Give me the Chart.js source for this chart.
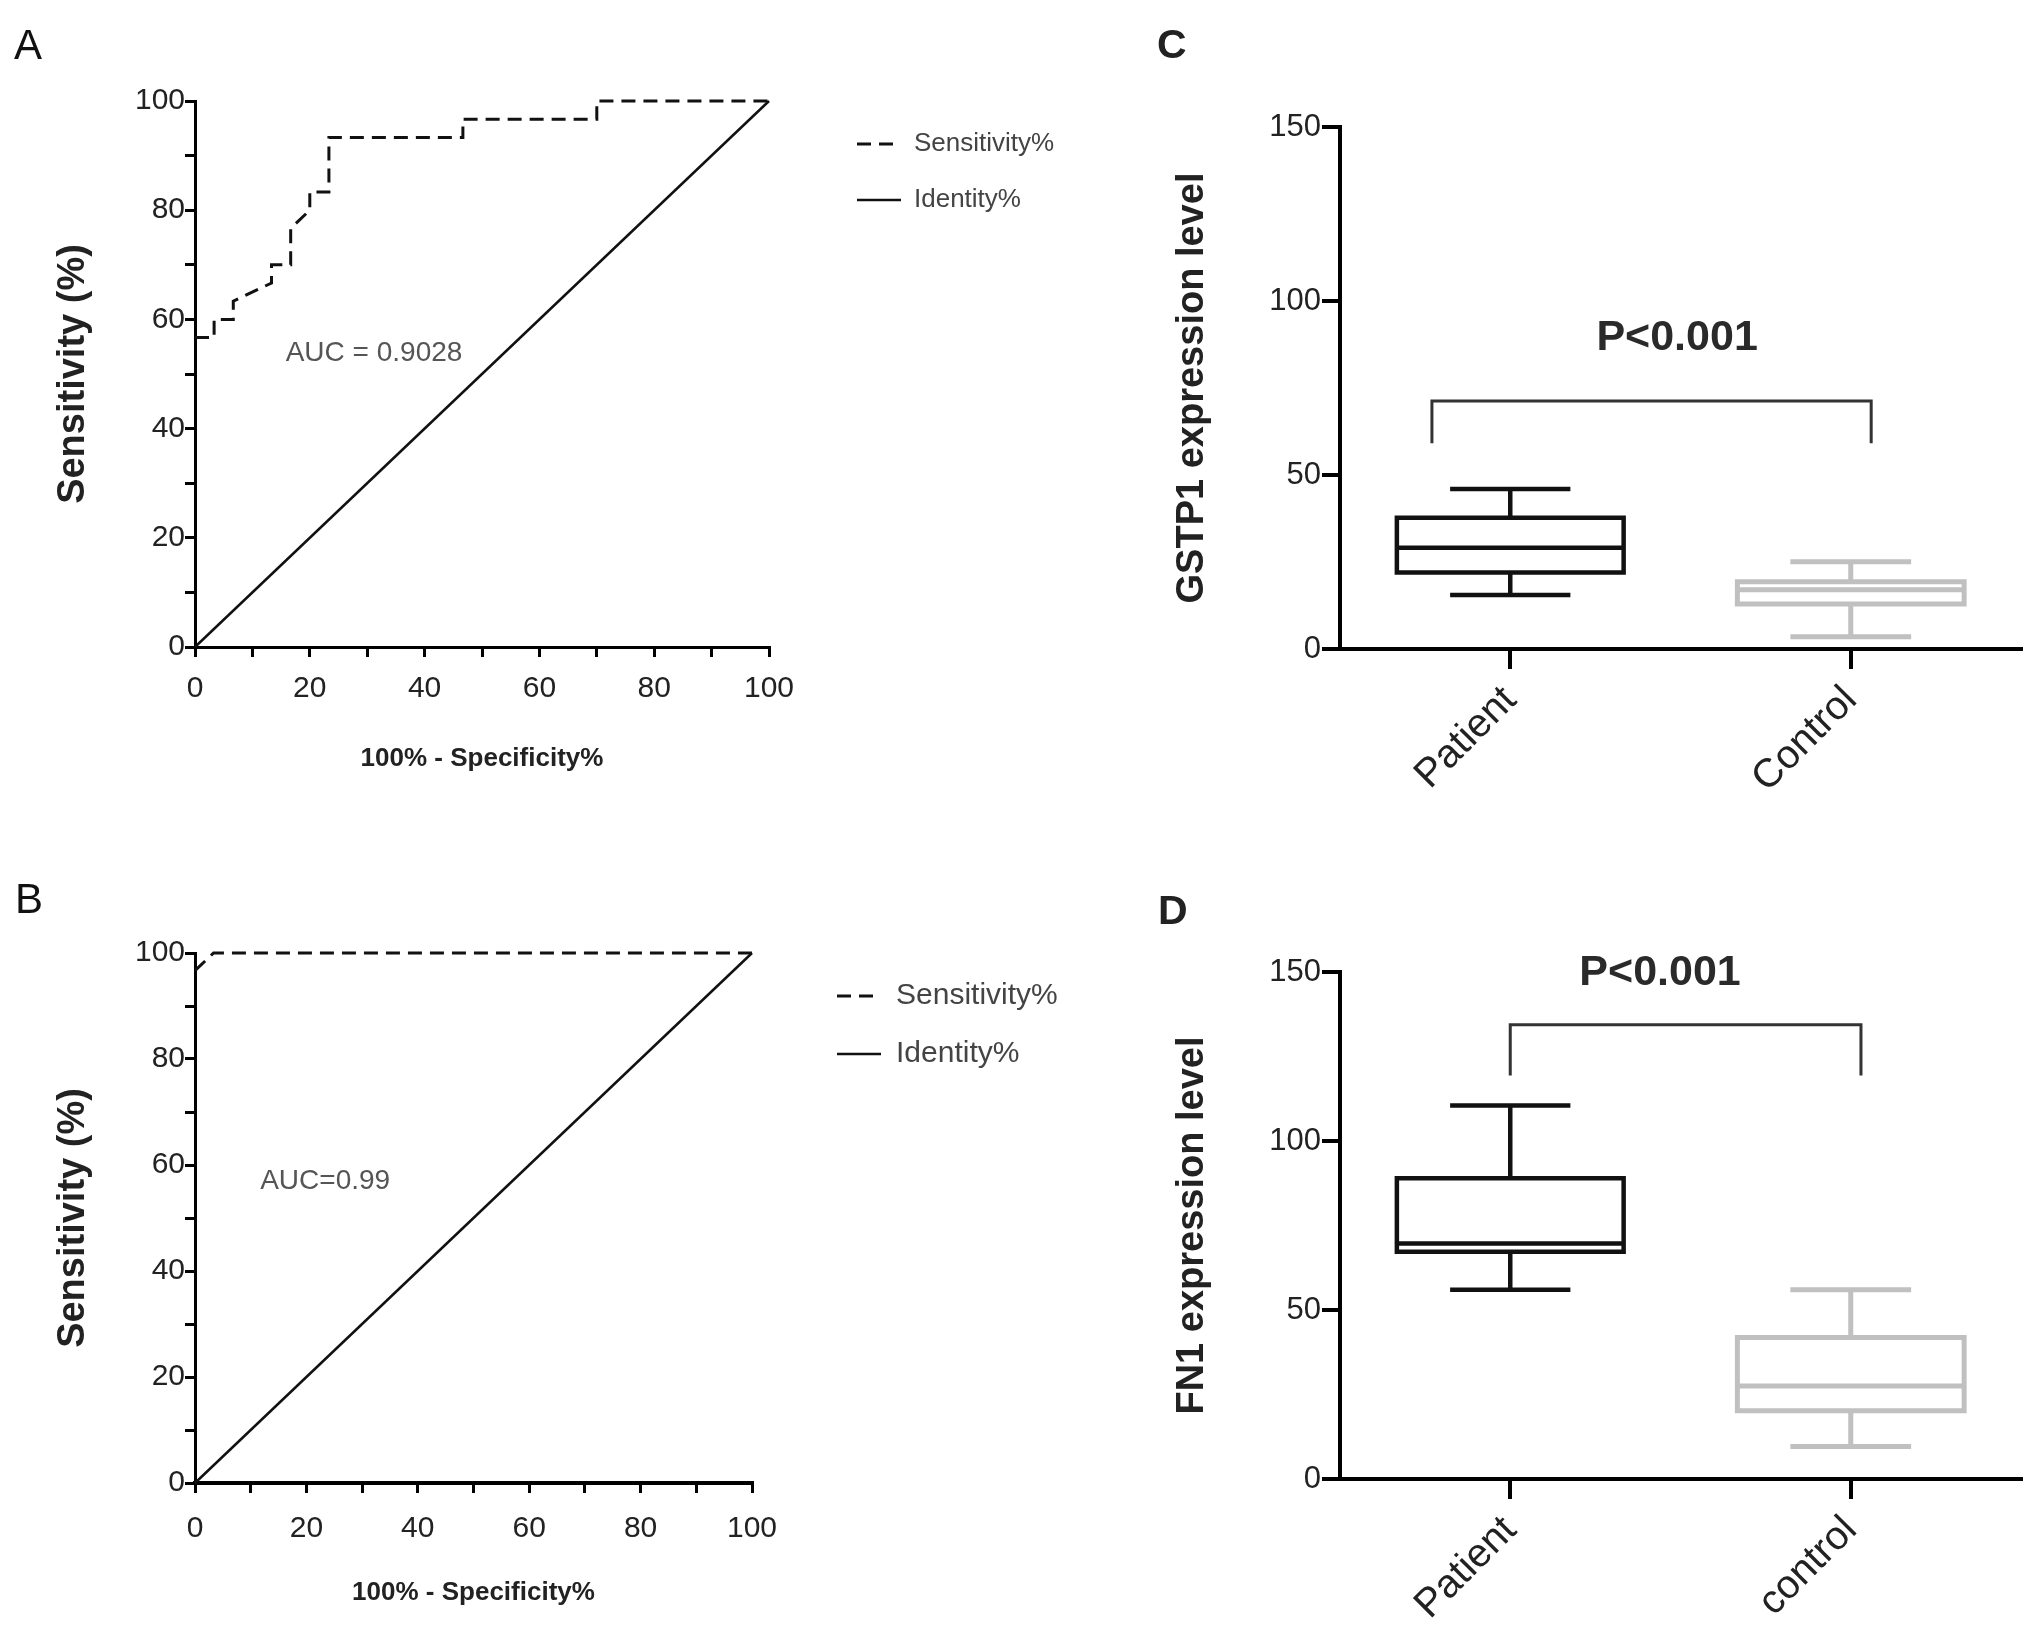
<!DOCTYPE html>
<html>
<head>
<meta charset="utf-8">
<script src="https://cdn.jsdelivr.net/npm/chart.js@4.4.1/dist/chart.umd.min.js"></script>
<style>
  html, body { margin: 0; padding: 0; background: #fff; }
  #page { position: relative; width: 2031px; height: 1629px; overflow: hidden; background: #fff; }
  canvas { position: absolute; }
  .tag { position: absolute; line-height: 1; color: #111; font-family: 'Liberation Sans', Arial, sans-serif; }
  .tag.thin { font-size: 42px; }
  .tag.bold { font-weight: bold; font-size: 41px; color: #222; }
</style>
</head>
<body>
<div id="page">
  <canvas id="rocA" width="1100" height="800" style="left:0;top:0"></canvas>
  <canvas id="rocB" width="1100" height="779" style="left:0;top:850px"></canvas>
  <canvas id="boxC" width="931" height="850" style="left:1100px;top:0"></canvas>
  <canvas id="boxD" width="931" height="779" style="left:1100px;top:850px"></canvas>
  <div class="tag thin" style="left:14px;top:24px">A</div>
  <div class="tag thin" style="left:15px;top:878px">B</div>
  <div class="tag bold" style="left:1157px;top:24px">C</div>
  <div class="tag bold" style="left:1158px;top:890px">D</div>
</div>
<script>
// =============================================
// データ
// =============================================
const ROC_SERIES = ['Sensitivity%', 'Identity%']
const ROC_LABELED = [0, 20, 40, 60, 80, 100]

// ROC A (x = 100% - Specificity%, y = Sensitivity%)
const ROC_A_FPR  = [0, 3.33, 3.33, 6.67, 6.67, 13.33, 13.33, 16.67, 16.67, 20, 20, 23.33, 23.33, 46.67, 46.67, 70, 70, 100]
const ROC_A_SENS = [56.67, 56.67, 60, 60, 63.33, 66.67, 70, 70, 76.67, 80, 83.33, 83.33, 93.33, 93.33, 96.67, 96.67, 100, 100]
// ROC B
const ROC_B_FPR  = [0, 3.33, 100]
const ROC_B_SENS = [96.67, 100, 100]
// 対角線
const IDENTITY_X = [0, 100]
const IDENTITY_Y = [0, 100]

const AUC_A = 'AUC = 0.9028'
const AUC_B = 'AUC=0.99'

// Box plot C (GSTP1)
const GROUPS_C   = ['Patient', 'Control']
const GSTP1_MIN  = [15.5, 3.5]
const GSTP1_Q1   = [22, 12.9]
const GSTP1_MED  = [29.1, 17]
const GSTP1_Q3   = [37.7, 19.3]
const GSTP1_MAX  = [46, 25.1]
const BRACKET_C_X = [-0.23, 1.06]
const BRACKET_C_Y = [71.3, 59.1]   // 横線, 端
const P_C = { text: 'P<0.001', x: 0.49, y: 89.4 }

// Box plot D (FN1)
const GROUPS_D  = ['Patient', 'control']
const FN1_MIN   = [56, 9.6]
const FN1_Q1    = [67.2, 20.2]
const FN1_MED   = [69.7, 27.5]
const FN1_Q3    = [89, 41.9]
const FN1_MAX   = [110.5, 56]
const BRACKET_D_X = [0, 1.03]
const BRACKET_D_Y = [134.4, 119.4]
const P_D = { text: 'P<0.001', x: 0.44, y: 149.7 }

const BOX_TICKS = [0, 50, 100, 150]

// =============================================
// 定数
// =============================================
const SANS = "'Liberation Sans', Arial, sans-serif"
const GROUP_COLORS = ['#111111', '#c0c0c0']
const GROUP_WIDTHS = [4.5, 5]
const BOX_HALF = 0.333
const CAP_HALF = 0.17

Chart.defaults.animation = false
Chart.defaults.font.family = SANS

// データ上の座標にテキストを描く
const textLabel = {
  id: 'textLabel',
  afterDatasetsDraw(chart, args, opts) {
    const { ctx, scales: { x, y } } = chart
    ;(opts.items || []).forEach(it => {
      ctx.save()
      ctx.font = it.font
      ctx.fillStyle = it.color
      ctx.textAlign = it.align || 'center'
      ctx.textBaseline = 'middle'
      ctx.fillText(it.text, x.getPixelForValue(it.x), y.getPixelForValue(it.y))
      ctx.restore()
    })
  }
}

const toPoints = (xs, ys) => xs.map((v, i) => ({ x: v, y: ys[i] }))

// 凡例の線種をデータセットの線に合わせる
function lineLegendLabels(chart) {
  return Chart.defaults.plugins.legend.labels.generateLabels(chart).map(item => {
    const ds = chart.data.datasets[item.datasetIndex]
    return Object.assign(item, {
      lineDash: ds.borderDash || [],
      lineWidth: ds.borderWidth,
      strokeStyle: ds.borderColor,
    })
  })
}

// =============================================
// ROC
// =============================================
function rocTicks(pad) {
  return {
    stepSize: 10,
    autoSkip: false,
    maxRotation: 0,
    padding: pad,
    color: '#222',
    font: { family: SANS, size: 30 },
    callback: v => ROC_LABELED.includes(v) ? String(v) : ''
  }
}
const rocGrid = () => ({ drawOnChartArea: false, drawTicks: true, tickLength: 10, lineWidth: 3, color: '#000' })

function makeRoc(id, fpr, sens, cfg) {
  const chart = new Chart(document.getElementById(id), {
    type: 'line',
    data: {
      datasets: [
        {
          label: ROC_SERIES[0],
          data: toPoints(fpr, sens),
          borderColor: '#111',
          borderWidth: 3,
          borderDash: [14, 8],
          pointRadius: 0,
          tension: 0,
          clip: 6,
        },
        {
          label: ROC_SERIES[1],
          data: toPoints(IDENTITY_X, IDENTITY_Y),
          borderColor: '#111',
          borderWidth: 2.5,
          pointRadius: 0,
          tension: 0,
          clip: 6,
        }
      ]
    },
    plugins: [textLabel],
    options: {
      responsive: false,
      devicePixelRatio: 1,
      layout: { padding: Object.assign({}, cfg.padding) },
      plugins: {
        tooltip: { enabled: false },
        legend: {
          position: 'right',
          align: 'start',
          maxWidth: 600,
          labels: {
            usePointStyle: true,
            pointStyle: 'line',
            pointStyleWidth: 44,
            padding: cfg.legendPad,
            color: '#444',
            font: { family: SANS, size: cfg.legendSize },
            generateLabels: lineLegendLabels,
          }
        },
        textLabel: {
          items: [{ text: cfg.auc, x: cfg.aucAt[0], y: cfg.aucAt[1], align: 'left', font: `28px ${SANS}`, color: '#555' }]
        }
      },
      scales: {
        x: {
          type: 'linear', min: 0, max: 100,
          ticks: rocTicks(cfg.xTickPad),
          grid: rocGrid(),
          border: { display: true, width: cfg.xBorder, color: '#000' },
          title: { display: true, text: '100% - Specificity%', color: '#222', font: { size: 26, weight: 'bold' }, padding: { top: 4, bottom: 4 } },
          afterFit: s => { s.height = cfg.xHeight }
        },
        y: {
          type: 'linear', min: 0, max: 100,
          ticks: rocTicks(0),
          grid: rocGrid(),
          border: { display: true, width: 3, color: '#000' },
          title: { display: true, text: 'Sensitivity (%)', color: '#222', font: { size: 38, weight: 'bold' }, padding: { top: 4, bottom: 4 } },
          afterFit: s => { s.width = 148 }
        },
        // 凡例とプロットの間隔
        gap: {
          type: 'linear',
          position: 'right',
          display: true,
          ticks: { display: false },
          grid: { display: false },
          border: { display: false },
          afterFit: s => { s.width = cfg.gap }
        }
      }
    }
  })
  // 凡例幅はフォント次第なので、描画後にプロット右端を合わせ直す
  const diff = chart.chartArea.right - cfg.plotRight
  if (Math.abs(diff) > 0.5) {
    chart.options.layout.padding.right = Math.max(0, cfg.padding.right + diff)
    chart.update()
  }
  return chart
}

makeRoc('rocA', ROC_A_FPR, ROC_A_SENS, {
  padding: { left: 47, top: 101, right: 60, bottom: 22 },
  plotRight: 769,
  legendPad: 30, legendSize: 26, gap: 58,
  xHeight: 131, xTickPad: 14, xBorder: 3,
  auc: AUC_A, aucAt: [15.8, 53.8],
})

makeRoc('rocB', ROC_B_FPR, ROC_B_SENS, {
  padding: { left: 47, top: 103, right: 60, bottom: 17 },
  plotRight: 752,
  legendPad: 28, legendSize: 30, gap: 57,
  xHeight: 129, xTickPad: 18, xBorder: 4,
  auc: AUC_B, aucAt: [11.7, 57],
})

// =============================================
// Box plot
// =============================================
function boxSegments(i, lo, q1, med, q3, hi) {
  const gap = { x: i, y: null }
  return [
    { x: i - BOX_HALF, y: q1 }, { x: i + BOX_HALF, y: q1 }, { x: i + BOX_HALF, y: q3 },
    { x: i - BOX_HALF, y: q3 }, { x: i - BOX_HALF, y: q1 }, gap,
    { x: i - BOX_HALF, y: med }, { x: i + BOX_HALF, y: med }, gap,
    { x: i, y: q3 }, { x: i, y: hi }, gap,
    { x: i - CAP_HALF, y: hi }, { x: i + CAP_HALF, y: hi }, gap,
    { x: i, y: q1 }, { x: i, y: lo }, gap,
    { x: i - CAP_HALF, y: lo }, { x: i + CAP_HALF, y: lo },
  ]
}

function makeBox(id, groups, stats, bracketX, bracketY, pText, yTitle, cfg) {
  const [lo, q1, med, q3, hi] = stats
  const datasets = groups.map((g, i) => ({
    label: g,
    data: boxSegments(i, lo[i], q1[i], med[i], q3[i], hi[i]),
    borderColor: GROUP_COLORS[i],
    borderWidth: GROUP_WIDTHS[i],
    borderCapStyle: 'square',
    borderJoinStyle: 'miter',
    pointRadius: 0,
    spanGaps: false,
    tension: 0,
  }))
  // 有意差ブラケット
  datasets.push({
    label: 'bracket',
    data: [
      { x: bracketX[0], y: bracketY[1] }, { x: bracketX[0], y: bracketY[0] },
      { x: bracketX[1], y: bracketY[0] }, { x: bracketX[1], y: bracketY[1] },
    ],
    borderColor: '#333',
    borderWidth: 3,
    pointRadius: 0,
    tension: 0,
  })

  return new Chart(document.getElementById(id), {
    type: 'line',
    data: { datasets },
    plugins: [textLabel],
    options: {
      responsive: false,
      devicePixelRatio: 1,
      layout: { padding: cfg.padding },
      plugins: {
        legend: { display: false },
        tooltip: { enabled: false },
        textLabel: {
          items: [{ text: pText.text, x: pText.x, y: pText.y, font: `bold 43px ${SANS}`, color: '#2a2a2a' }]
        }
      },
      scales: {
        x: {
          type: 'linear',
          min: -0.5,
          max: 1.5,
          afterBuildTicks: s => { s.ticks = groups.map((g, i) => ({ value: i })) },
          ticks: {
            autoSkip: false,
            minRotation: 45,
            maxRotation: 45,
            padding: 8,
            color: '#222',
            font: { size: 40 },
            callback: v => groups[v]
          },
          grid: { drawOnChartArea: false, drawTicks: true, tickLength: 20, lineWidth: 4, color: '#000' },
          border: { display: true, width: 4, color: '#000' },
          afterFit: s => { s.height = cfg.xHeight }
        },
        y: {
          type: 'linear',
          min: BOX_TICKS[0],
          max: BOX_TICKS[BOX_TICKS.length - 1],
          afterBuildTicks: s => { s.ticks = BOX_TICKS.map(v => ({ value: v })) },
          ticks: { padding: 1, color: '#222', font: { size: 31 } },
          grid: { drawOnChartArea: false, drawTicks: true, tickLength: 18, lineWidth: 4, color: '#000' },
          border: { display: true, width: 4, color: '#000' },
          title: { display: true, text: yTitle, color: '#222', font: { size: 38, weight: 'bold' }, padding: { top: 4, bottom: 4 } },
          afterFit: s => { s.width = 174 }
        }
      }
    }
  })
}

makeBox('boxC', GROUPS_C, [GSTP1_MIN, GSTP1_Q1, GSTP1_MED, GSTP1_Q3, GSTP1_MAX],
  BRACKET_C_X, BRACKET_C_Y, P_C, 'GSTP1 expression level',
  { padding: { left: 66, top: 127, right: 10, bottom: 11 }, xHeight: 190 })

makeBox('boxD', GROUPS_D, [FN1_MIN, FN1_Q1, FN1_MED, FN1_Q3, FN1_MAX],
  BRACKET_D_X, BRACKET_D_Y, P_D, 'FN1 expression level',
  { padding: { left: 66, top: 122, right: 10, bottom: 10 }, xHeight: 140 })
</script>
</body>
</html>
